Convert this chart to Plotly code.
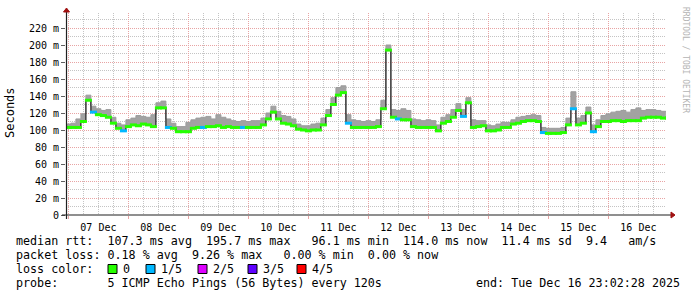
import pandas as pd
import plotly.graph_objects as go

# ---------------- data ----------------
start_time = "2025-12-06 23:00"
step = "2h"
median_ms = [103, 103, 103, 110, 135, 121, 118, 117, 115, 108,
             102, 99, 104, 106, 105, 107, 106, 104, 126, 126,
             103, 102, 98, 98, 98, 102, 103, 103, 104, 104,
             105, 103, 104, 103, 103, 103, 103, 103, 103, 106,
             113, 121, 113, 108, 107, 105, 101, 100, 99, 100,
             100, 106, 117, 130, 141, 144, 108, 103, 103, 103,
             103, 103, 104, 125, 194, 115, 113, 112, 112, 104,
             103, 103, 103, 103, 99, 108, 110, 115, 123, 116,
             132, 103, 104, 105, 99, 99, 100, 103, 103, 107,
             108, 110, 111, 111, 110, 97, 96, 96, 96, 97,
             106, 125, 106, 108, 120, 98, 104, 110, 110, 111,
             111, 110, 111, 111, 111, 114, 115, 115, 115, 114,
             114]
smoke_max_ms = [107, 108, 113, 119, 141, 128, 125, 123, 124, 115,
                108, 106, 112, 114, 117, 116, 115, 118, 132, 134,
                113, 108, 104, 104, 109, 112, 114, 115, 116, 113,
                118, 115, 113, 111, 110, 111, 110, 111, 111, 114,
                120, 128, 122, 117, 116, 113, 107, 105, 105, 107,
                108, 114, 124, 138, 150, 152, 118, 112, 111, 110,
                111, 110, 112, 135, 200, 124, 123, 125, 123, 113,
                112, 111, 112, 111, 106, 115, 118, 124, 131, 124,
                138, 112, 111, 111, 106, 105, 107, 109, 109, 112,
                115, 116, 117, 118, 117, 103, 102, 102, 102, 103,
                114, 145, 114, 117, 127, 106, 112, 117, 119, 121,
                122, 123, 121, 124, 126, 123, 124, 124, 123, 122,
                121]
# loss class per sample (0 = no loss, 1 = 1/5 ...)
loss_class = [0] * 121
for i in [5, 11, 20, 27, 35, 56, 66, 79, 95, 101, 105]:
    loss_class[i] = 1

loss_labels = ["0", "1/5", "2/5", "3/5", "4/5"]
loss_colors = ["#26ff00", "#00b8ff", "#dd00ff", "#5e00ff", "#ff0000"]

y_tickvals = [0, 20, 40, 60, 80, 100, 120, 140, 160, 180, 200, 220]
y_ticktext = ["0", "20 m", "40 m", "60 m", "80 m", "100 m", "120 m",
              "140 m", "160 m", "180 m", "200 m", "220 m"]

legend_lines = [
    "median rtt:  107.3 ms avg  195.7 ms max   96.1 ms min  114.0 ms now  11.4 ms sd  9.4   am/s",
    "packet loss: 0.18 % avg  9.26 % max   0.00 % min  0.00 % now",
    "loss color:",
    "probe:       5 ICMP Echo Pings (56 Bytes) every 120s",
]
end_text = "end: Tue Dec 16 23:02:28 2025"

# ---------------- geometry ----------------
W, H = 697, 297
L, R, T, B = 66, 31, 13, 82
PW, PH = W - L - R, H - T - B
MONO = "DejaVu Sans Mono"


def px(x):
    return (x - L) / PW


def py(y):
    return (H - B - y) / PH


times = pd.date_range(start_time, periods=len(median_ms), freq=step)
band_times = times + pd.Timedelta(hours=1)   # centre of each step

fig = go.Figure()
# smoke
fig.add_trace(go.Scatter(x=times, y=median_ms, mode="lines", line_shape="hv",
                         line=dict(width=0, color="rgba(0,0,0,0)"),
                         hoverinfo="skip", showlegend=False))
fig.add_trace(go.Scatter(x=times, y=smoke_max_ms, mode="lines", fill="tonexty", line_shape="hv",
                         fillcolor="#a2a2a2", line=dict(width=1, color="#9c9c9c"),
                         hoverinfo="skip", showlegend=False))
# median line
fig.add_trace(go.Scatter(x=times, y=median_ms, mode="lines", line_shape="hv",
                         line=dict(width=1.2, color="#202020"),
                         showlegend=False))
# loss colored median band
fig.add_trace(go.Scatter(x=band_times, y=median_ms, mode="markers",
                         marker=dict(symbol="line-ew", size=5,
                                     line=dict(width=3, color=[loss_colors[c] for c in loss_class])),
                         showlegend=False))

shapes = []
# axis lines
shapes.append(dict(type="line", xref="paper", yref="paper", x0=px(62), x1=px(671),
                   y0=py(215), y1=py(215), line=dict(color="#202020", width=1.2)))
shapes.append(dict(type="line", xref="paper", yref="paper", x0=px(66.5), x1=px(66.5),
                   y0=py(219), y1=py(11), line=dict(color="#202020", width=1.2)))
# arrows
shapes.append(dict(type="path", xref="paper", yref="paper",
                   path=f"M {px(671)} {py(212)} L {px(675)} {py(215)} L {px(671)} {py(218)} Z",
                   fillcolor="#a01010", line=dict(color="#a01010", width=1)))
shapes.append(dict(type="path", xref="paper", yref="paper",
                   path=f"M {px(63.5)} {py(12)} L {px(66.5)} {py(8)} L {px(69.5)} {py(12)} Z",
                   fillcolor="#a01010", line=dict(color="#a01010", width=1)))

annotations = []
line_y = [241, 255, 269, 283]
for txt, yy in zip(legend_lines, line_y):
    annotations.append(dict(text=txt.replace(" ", "\u00a0"), xref="paper", yref="paper",
                            x=px(16), y=py(yy), xanchor="left", yanchor="middle",
                            showarrow=False, borderpad=0, borderwidth=0,
                            font=dict(family=MONO, size=11.7, color="#000000")))
annotations.append(dict(text=end_text.replace(" ", "\u00a0"), xref="paper", yref="paper",
                        x=px(680), y=py(283), xanchor="right", yanchor="middle",
                        showarrow=False, borderpad=0, borderwidth=0,
                        font=dict(family=MONO, size=11.7, color="#000000")))
# loss color boxes
box_x = [108, 146, 198, 248, 297]
for bx, col, lab in zip(box_x, loss_colors, loss_labels):
    shapes.append(dict(type="rect", xref="paper", yref="paper",
                       x0=px(bx), x1=px(bx + 9), y0=py(273.5), y1=py(264.5),
                       fillcolor=col, line=dict(color="#000000", width=1)))
    annotations.append(dict(text=lab, xref="paper", yref="paper",
                            x=px(bx + 15), y=py(269), xanchor="left", yanchor="middle",
                            showarrow=False, borderpad=0, borderwidth=0,
                            font=dict(family=MONO, size=11.7, color="#000000")))
# y-axis title
annotations.append(dict(text="Seconds", xref="paper", yref="paper", x=px(10), y=py(113),
                        textangle=-90, showarrow=False, xanchor="center", yanchor="middle",
                        font=dict(family=MONO, size=12, color="#000000")))
# watermark
annotations.append(dict(text="RRDTOOL / TOBI OETIKER".replace(" ", "\u00a0"), xref="paper", yref="paper",
                        x=px(686), y=py(60), textangle=90, showarrow=False,
                        xanchor="center", yanchor="middle",
                        font=dict(family=MONO, size=8, color="#b4b4b4")))

major_grid = "#e8a4a4"
minor_grid = "#c4c4c4"
DOT = "1px,1px"

fig.update_layout(
    width=W, height=H,
    margin=dict(l=L, r=R, t=T, b=B, pad=0),
    paper_bgcolor="#ffffff", plot_bgcolor="#ffffff",
    showlegend=False,
    shapes=shapes, annotations=annotations,
    xaxis=dict(type="date",
               range=["2025-12-06 23:02:28", "2025-12-16 23:02:28"],
               tick0="2025-12-07", dtick=86400000, ticklabelmode="period",
               tickformat="%d %b", ticks="outside", ticklen=3, tickcolor=major_grid,
               showgrid=True, gridcolor=major_grid, griddash=DOT, gridwidth=1,
               minor=dict(dtick=21600000, tick0="2025-12-07", showgrid=True,
                          gridcolor=minor_grid, griddash=DOT, gridwidth=1),
               showline=False, zeroline=False,
               tickfont=dict(family=MONO, size=10, color="#000000")),
    yaxis=dict(range=[0, PH / 0.85], tickmode="array", tickvals=y_tickvals,
               ticktext=y_ticktext, ticks="outside", ticklen=4, tickcolor="#606060",
               showgrid=True, gridcolor=major_grid, griddash=DOT, gridwidth=1,
               minor=dict(tickmode="linear", tick0=0, dtick=10, showgrid=True,
                          gridcolor=minor_grid, griddash=DOT, gridwidth=1),
               showline=False, zeroline=False,
               tickfont=dict(family=MONO, size=10, color="#000000")),
)

fig.write_html("out.html")
